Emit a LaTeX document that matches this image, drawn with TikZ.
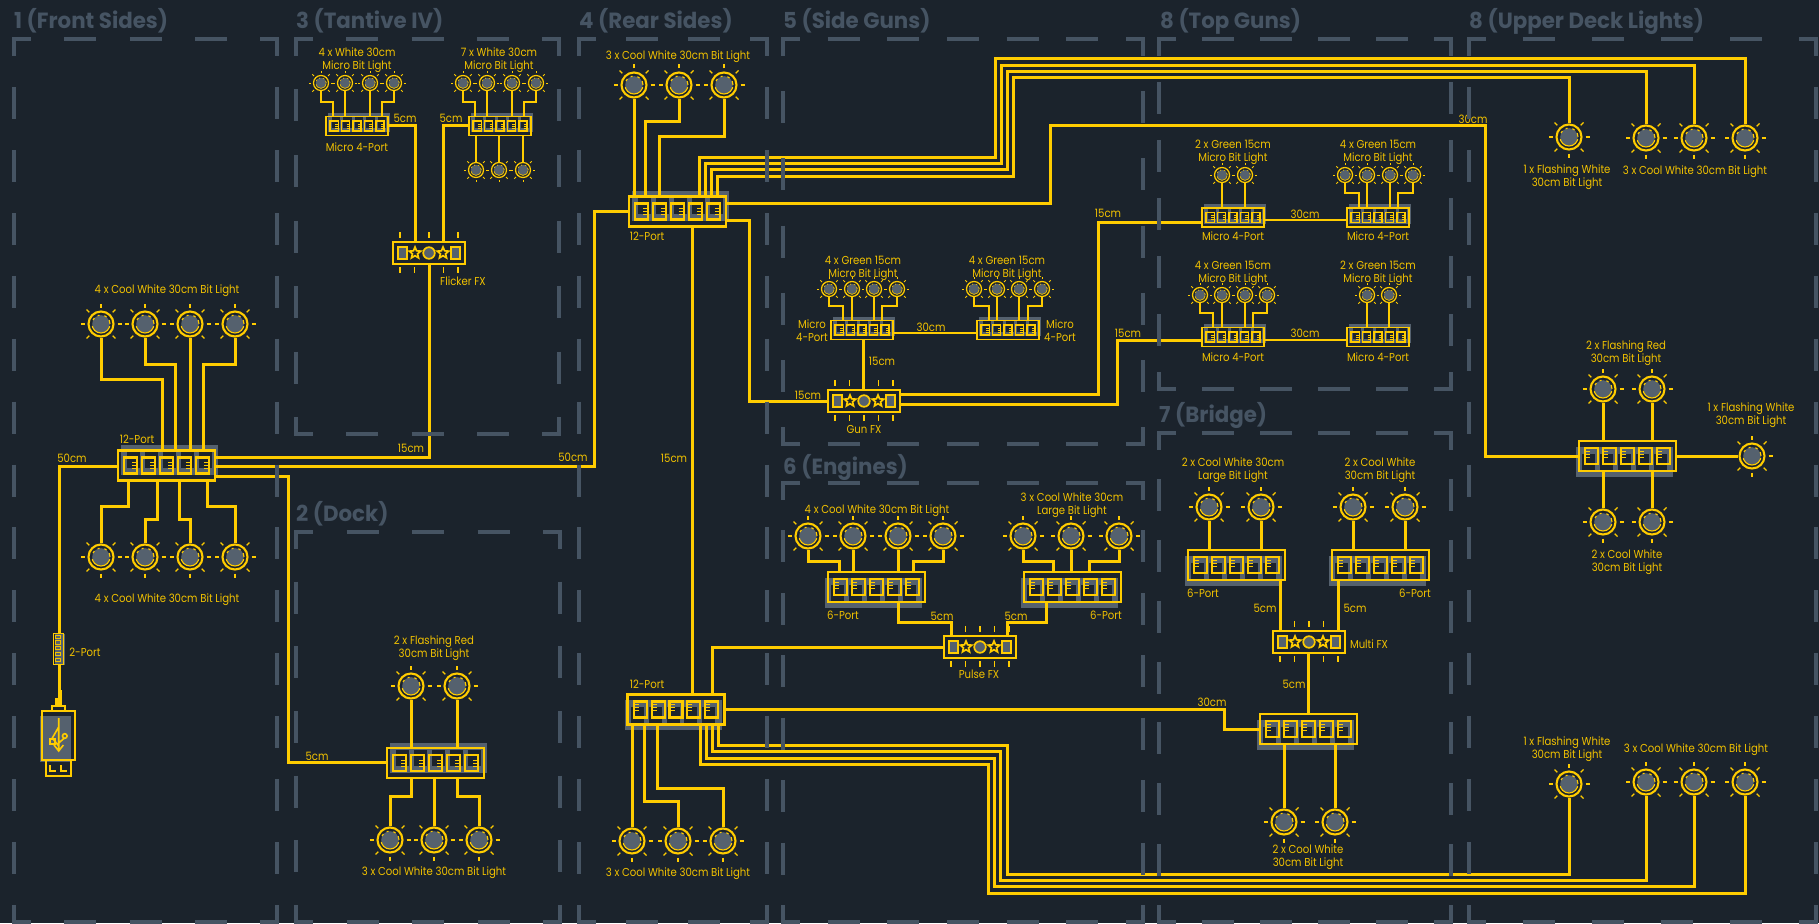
\documentclass[tikz,border=0pt]{standalone}
\usepackage{fontspec}
\setmainfont{Poppins}
\newfontfamily\lab[FakeStretch=0.88]{Poppins}
\newfontfamily\ttl[FakeStretch=0.97]{Poppins}
\definecolor{bg}{HTML}{1B232C}
\definecolor{wy}{HTML}{FFCC00}
\definecolor{ly}{HTML}{F2C200}
\definecolor{lamp}{HTML}{55616E}
\definecolor{rg}{HTML}{465463}
\newcounter{lblc}
\tikzset{
  wire/.style={draw=wy,line width=3pt,line join=miter},
  mwire/.style={draw=wy,line width=2.1pt,line join=miter},
  lbltxt/.style={anchor=mid,inner sep=0pt,text=ly,font=\fontsize{11.5}{13}\selectfont\lab},
  ttltxt/.style={anchor=west,inner sep=0pt,text=rg,font=\fontsize{22}{24}\selectfont\bfseries\ttl},
  boxnode/.style={draw=wy,rectangle,inner sep=0pt},
}
\newcommand\lbl[3]{\stepcounter{lblc}\node[lbltxt] (lbl\thelblc) at (#1,#2+1.5) {#3};}
\newcommand\ttlb[3]{\stepcounter{lblc}\node[ttltxt] (ttl\thelblc) at (#1,#2+1) {#3};}
% name x y scale
\newcommand\mybulb[4]{%
  \node[circle,draw=wy,fill=bg,line width=#4*2.1pt,minimum size=#4*25pt,inner sep=0pt] (#1) at (#2,#3) {};
  \fill[lamp] (#2,#3) circle[radius=#4*8.8pt];
  \draw[wy,line width=#4*1.1pt,dash pattern=on #4*4pt off #4*4pt on #4*2.5pt off #4*5pt on #4*2pt off #4*4pt on #4*2.5pt off #4*6pt on #4*24pt off #4*2.5pt] (#2,#3) circle[radius=#4*9pt];
  \foreach \a in {0,45,...,315}{\draw[wy,line width=(0.3+1.05*#4)*1pt] ([shift={(#2,#3)}]\a:#4*16.5) -- ([shift={(#2,#3)}]\a:#4*20.5);}
}
% name x y scale dir
\newcommand\myhub[5]{%
  \begin{scope}[shift={(#2,#3)},x=#4pt,y=-#4pt]
    \begin{scope}[shift={(3*#5,-5.5*#5)}]
      \fill[lamp] (-48.5,-15) rectangle (48.5,15);
      \foreach \i in {-2,...,2}{\fill[bg] (\i*17.9-6.5,-8) rectangle (\i*17.9+6.5,8);}
    \end{scope}
    \node[boxnode,line width=(0.6+1.8*#4)*1pt,minimum width=#4*97pt,minimum height=#4*30pt] (#1) at (0,0) {};
    \foreach \i in {-2,...,2}{
      \draw[wy,line width=(0.4+1.7*#4)*1pt] (\i*17.9-6.5,-8) rectangle (\i*17.9+6.5,8);
      \foreach \j in {-3,0,3}{\draw[wy,line width=#4*1pt] (\i*17.9+#5*1.5,\j+#5-1) -- (\i*17.9+#5*6.5,\j+#5-1);}
    }
  \end{scope}
}
\newcommand\mystar[1]{\draw[wy,line width=1.7pt,line join=miter] ([xshift=#1pt]0,-6)--++(1.59,3.82)--++(4.12,0.33)--++(-3.14,2.68)--++(0.96,4.02)--++(-3.53,-2.15)--++(-3.53,2.15)--++(0.96,-4.02)--++(-3.14,-2.68)--++(4.12,-0.33)--cycle;}
\newcommand\myfx[3]{%
  \begin{scope}[shift={(#2,#3)}]
    \node[boxnode,line width=2.2pt,minimum width=72pt,minimum height=22pt] (#1) at (0,0) {};
    \draw[wy,fill=lamp,line width=1.7pt] (-31,-6) rectangle (-22,6);
    \draw[wy,fill=lamp,line width=1.7pt] (22,-6) rectangle (31,6);
    \draw[wy,fill=lamp,line width=1.7pt] (0,0) circle[radius=5.8pt];
    \mystar{-14}
    \mystar{14}
    \foreach \t in {-29,-14.5,0,14.5,29}{
      \draw[wy,line width=1.5pt] (\t,-21) -- (\t,-15);
      \draw[wy,line width=1.5pt] (\t,14) -- (\t,20);
    }
  \end{scope}
}
\newcommand\myside[4]{%
  \pgfmathsetmacro{\sl}{veclen(#3-#1,#4-#2)}
  \pgfmathsetmacro{\pp}{(\sl-2)/round((\sl-2)/63)}
  \pgfmathsetmacro{\gp}{\pp-32}
  \draw[rg,line width=4.4pt,dash pattern=on 32pt off \gp pt,dash phase=15pt] (#1,#2) -- (#3,#4);
}
\newcommand\myregion[4]{%
  \myside{#1}{#2}{#3}{#2}\myside{#3}{#2}{#3}{#4}\myside{#1}{#4}{#3}{#4}\myside{#1}{#2}{#1}{#4}
  \draw[rg,line width=4.4pt,line join=miter] (#1,#2+17) -- (#1,#2) -- (#1+17,#2);
  \draw[rg,line width=4.4pt,line join=miter] (#3-17,#2) -- (#3,#2) -- (#3,#2+17);
  \draw[rg,line width=4.4pt,line join=miter] (#1,#4-17) -- (#1,#4) -- (#1+17,#4);
  \draw[rg,line width=4.4pt,line join=miter] (#3-17,#4) -- (#3,#4) -- (#3,#4-17);
}
\begin{document}
\begin{tikzpicture}[x=1pt,y=-1pt]
\useasboundingbox (0,0) rectangle (1819,923);
\fill[bg] (0,0) rectangle (1819,923);
% ---------- front sides
\mybulb{fa}{101}{324}{1}\mybulb{fb}{145}{324}{1}\mybulb{fc}{190}{324}{1}\mybulb{fd}{235}{324}{1}
\mybulb{fe}{101}{557}{1}\mybulb{ff}{145}{557}{1}\mybulb{fg}{190}{557}{1}\mybulb{fh}{235}{557}{1}
\myhub{hF}{166.5}{465.5}{1}{1}
% 2-port + usb
\fill[lamp] (55,634) rectangle (65,665);
\node[boxnode,line width=1pt,minimum width=10pt,minimum height=31pt] (pTwo) at (58,648.5) {};
\foreach \q in {637,642.5,648,654,660}{\draw[ly,line width=.9pt] (55.3,\q-1.8) rectangle (60.7,\q+1.8);}
\fill[lamp] (40,716) rectangle (71,762);
\node[boxnode,line width=2pt,minimum width=33pt,minimum height=49pt] (usb) at (58.5,735.5) {};
\node[boxnode,line width=2pt,minimum width=25pt,minimum height=16pt] (plug) at (58.5,768) {};
\node[boxnode,line width=2pt,minimum width=13pt,minimum height=5pt] (neck) at (58.5,708.5) {};
\draw[wy,line width=1.8pt] (50,765)--(50,771)--(56,771) (61,765)--(61,771)--(67,771);
\fill[wy] (55,698) rectangle (62,706);
\fill[wy] (59,690) rectangle (62,698);
\draw[wy,line width=1.6pt] (58.7,718)--(58.7,750) (54,745)--(58.7,751)--(63.4,745) (58.7,743)--(64.5,738) (58.7,746)--(52.3,738)--(58.7,727);
\draw[wy,line width=1.6pt] (64.8,736) circle[radius=2.3pt];
\draw[wy,line width=1.6pt] (50,739) rectangle (55,744);
% ---------- tantive
\mybulb{ta}{321}{83}{.6}\mybulb{tb}{345}{83}{.6}\mybulb{tc}{370}{83}{.6}\mybulb{td}{394}{83}{.6}
\mybulb{te}{463}{83}{.6}\mybulb{tf}{487}{83}{.6}\mybulb{tg}{512}{83}{.6}\mybulb{th}{536}{83}{.6}
\mybulb{ti}{476}{170}{.6}\mybulb{tj}{499}{170}{.6}\mybulb{tk}{523}{170}{.6}
\myhub{hTa}{357}{126}{.64}{1}
\myhub{hTb}{500}{126}{.64}{1}
\myfx{fxF}{429}{253}
% ---------- dock
\mybulb{da}{411}{686}{1}\mybulb{db}{457}{686}{1}
\mybulb{dc}{390}{840}{1}\mybulb{dd}{434}{840}{1}\mybulb{de}{479}{840}{1}
\myhub{hD}{435.5}{763}{1}{1}
% ---------- rear sides
\mybulb{ra}{634}{85}{1}\mybulb{rb}{679}{85}{1}\mybulb{rc}{724}{85}{1}
\mybulb{rd}{632}{841}{1}\mybulb{re}{678}{841}{1}\mybulb{rf}{723}{841}{1}
\myhub{hT}{677.5}{211.5}{1}{1}
\myhub{hB}{676}{709.5}{1}{-1}
% ---------- side guns
\mybulb{ga}{829}{289}{.6}\mybulb{gb}{852}{289}{.6}\mybulb{gc}{874}{289}{.6}\mybulb{gd}{897}{289}{.6}
\mybulb{ge}{974}{289}{.6}\mybulb{gf}{997}{289}{.6}\mybulb{gg}{1019}{289}{.6}\mybulb{gh}{1042}{289}{.6}
\myhub{hGa}{862}{330}{.64}{1}
\myhub{hGb}{1008}{330}{.64}{1}
\myfx{fxG}{864}{401}
% ---------- top guns
\mybulb{ua}{1222}{175}{.6}\mybulb{ub}{1245}{175}{.6}
\mybulb{uc}{1345}{175}{.6}\mybulb{ud}{1367}{175}{.6}\mybulb{ue}{1390}{175}{.6}\mybulb{uf}{1413}{175}{.6}
\mybulb{ug}{1200}{295}{.6}\mybulb{uh}{1222}{295}{.6}\mybulb{ui}{1245}{295}{.6}\mybulb{uj}{1267}{295}{.6}
\mybulb{uk}{1367}{295}{.6}\mybulb{ul}{1389}{295}{.6}
\myhub{hUa}{1233}{217.5}{.64}{1}
\myhub{hUb}{1378}{217.5}{.64}{1}
\myhub{hUc}{1233}{337}{.64}{1}
\myhub{hUd}{1378}{337}{.64}{1}
% ---------- engines
\mybulb{ea}{808}{536}{1}\mybulb{eb}{853}{536}{1}\mybulb{ec}{898}{536}{1}\mybulb{ed}{943}{536}{1}
\mybulb{ee}{1023}{536}{1}\mybulb{ef}{1071}{536}{1}\mybulb{eg}{1119}{536}{1}
\myhub{hEa}{876.5}{587}{1}{-1}
\myhub{hEb}{1072.5}{587}{1}{-1}
\myfx{fxP}{980}{647}
% ---------- bridge
\mybulb{ba}{1209}{507}{1}\mybulb{bb}{1261}{507}{1}\mybulb{bc}{1353}{507}{1}\mybulb{bd}{1405}{507}{1}
\mybulb{be}{1284}{822}{1}\mybulb{bf}{1335}{822}{1}
\myhub{hBa}{1236.5}{565}{1}{-1}
\myhub{hBb}{1380.5}{565}{1}{-1}
\myhub{hBc}{1308.5}{729}{1}{-1}
\myfx{fxM}{1309}{642}
% ---------- upper deck
\mybulb{la}{1569}{137}{1}\mybulb{lb}{1646}{138}{1}\mybulb{lc}{1694}{138}{1}\mybulb{ld}{1745}{138}{1}
\mybulb{le}{1603}{389}{1}\mybulb{lf}{1652}{389}{1}\mybulb{lg}{1603}{522}{1}\mybulb{lh}{1652}{522}{1}\mybulb{li}{1752}{456}{1}
\mybulb{lj}{1569}{784}{1}\mybulb{lk}{1646}{782}{1}\mybulb{ll}{1694}{782}{1}\mybulb{lm}{1745}{782}{1}
\myhub{hL}{1627.5}{456}{1}{-1}
% ========== wires
\draw[wire] (fa.south) |- (162,379) -- (162,0 |- hF.north);
\draw[wire] (fb.south) |- (175,364) -- (175,0 |- hF.north);
\draw[wire] (fc.south) -- (190,0 |- hF.north);
\draw[wire] (fd.south) |- (203,364) -- (203,0 |- hF.north);
\draw[wire] (128,0 |- hF.south) |- (101,506) -- (fe.north);
\draw[wire] (157,0 |- hF.south) |- (145,519) -- (ff.north);
\draw[wire] (179,0 |- hF.south) |- (190,519) -- (fg.north);
\draw[wire] (207,0 |- hF.south) |- (235,506) -- (fh.north);
\draw[wire] (hF.west |- 0,466) -| (59,0 |- pTwo.north);
\draw[wire] (59,0 |- pTwo.south) -- (59,0 |- neck.north);
\draw[wire] (hF.east |- 0,457) -| (fxF.south);
\draw[wire] (hF.east |- 0,466) -- (594,466) |- (hT.west |- 0,211);
\draw[wire] (hF.east |- 0,476) -- (288,476) |- (hD.west |- 0,762);
% tantive
\draw[mwire] (ta.south) |- (333,102) -- (333,0 |- hTa.north);
\draw[mwire] (tb.south) -- (345,0 |- hTa.north);
\draw[mwire] (tc.south) -- (370,0 |- hTa.north);
\draw[mwire] (td.south) |- (382,102) -- (382,0 |- hTa.north);
\draw[mwire] (te.south) |- (475,102) -- (475,0 |- hTb.north);
\draw[mwire] (tf.south) -- (487,0 |- hTb.north);
\draw[mwire] (tg.south) -- (512,0 |- hTb.north);
\draw[mwire] (th.south) |- (524,102) -- (524,0 |- hTb.north);
\draw[mwire] (476,0 |- hTb.south) -- (ti.north);
\draw[mwire] (499,0 |- hTb.south) -- (tj.north);
\draw[mwire] (523,0 |- hTb.south) -- (tk.north);
\draw[wire] (hTa.east) -| (415,0 |- fxF.north);
\draw[wire] (hTb.west) -| (443,0 |- fxF.north);
% dock
\draw[wire] (da.south) -- (411,0 |- hD.north);
\draw[wire] (db.south) -- (457,0 |- hD.north);
\draw[wire] (411,0 |- hD.south) |- (390,796) -- (dc.north);
\draw[wire] (434,0 |- hD.south) -- (dd.north);
\draw[wire] (457,0 |- hD.south) |- (479,796) -- (de.north);
% rear
\draw[wire] (ra.south) -- (634,0 |- hT.north);
\draw[wire] (rb.south) |- (645,122) -- (645,0 |- hT.north);
\draw[wire] (rc.south) |- (659,136) -- (659,0 |- hT.north);
\draw[wire] (632,0 |- hB.south) -- (rd.north);
\draw[wire] (644,0 |- hB.south) |- (678,801) -- (re.north);
\draw[wire] (657,0 |- hB.south) |- (723,788) -- (rf.north);
\draw[wire] (692,0 |- hT.south) -- (692,0 |- hB.north);
% top bundle
\draw[wire] (699,0 |- hT.north) |- (995,157) |- (1745,59) -- (ld.north);
\draw[wire] (705,0 |- hT.north) |- (1001,163) |- (1694,66) -- (lc.north);
\draw[wire] (711,0 |- hT.north) |- (1007,169) |- (1646,72) -- (lb.north);
\draw[wire] (717,0 |- hT.north) |- (1013,176) |- (1569,78) -- (la.north);
% bottom bundle
\draw[wire] (700,0 |- hB.south) |- (988,764) |- (1745,893) -- (lm.south);
\draw[wire] (706,0 |- hB.south) |- (994,758) |- (1694,886) -- (ll.south);
\draw[wire] (712,0 |- hB.south) |- (1000,751) |- (1646,880) -- (lk.south);
\draw[wire] (718,0 |- hB.south) |- (1007,745) |- (1569,874) -- (lj.south);
% 30cm to upper deck
\draw[wire] (hT.east |- 0,203) -- (1050,203) |- (1485,126) |- (hL.west);
\draw[wire] (hT.east |- 0,220) -- (749,220) |- (fxG.west);
\draw[wire] (hL.east) -- (li.west);
\draw[wire] (le.south) -- (1603,0 |- hL.north);
\draw[wire] (lf.south) -- (1652,0 |- hL.north);
\draw[wire] (1603,0 |- hL.south) -- (lg.north);
\draw[wire] (1652,0 |- hL.south) -- (lh.north);
% guns
\draw[mwire] (ga.south) |- (843,306) -- (843,0 |- hGa.north);
\draw[mwire] (gb.south) -- (852,0 |- hGa.north);
\draw[mwire] (gc.south) -- (874,0 |- hGa.north);
\draw[mwire] (gd.south) |- (882,306) -- (882,0 |- hGa.north);
\draw[mwire] (ge.south) |- (989,306) -- (989,0 |- hGb.north);
\draw[mwire] (gf.south) -- (997,0 |- hGb.north);
\draw[mwire] (gg.south) -- (1019,0 |- hGb.north);
\draw[mwire] (gh.south) |- (1028,306) -- (1028,0 |- hGb.north);
\draw[mwire] (hGa.east |- 0,333) -- (hGb.west |- 0,333);
\draw[wire] (fxG.north -| 863,0) -- (hGa.south -| 863,0);
\draw[wire] (fxG.east |- 0,394) -- (1098,394) |- (hUa.west |- 0,222);
\draw[wire] (fxG.east |- 0,404) -- (1117,404) |- (hUc.west |- 0,340);
% top guns
\draw[mwire] (ua.south) -- (1222,0 |- hUa.north);
\draw[mwire] (ub.south) -- (1245,0 |- hUa.north);
\draw[mwire] (uc.south) |- (1359,193) -- (1359,0 |- hUb.north);
\draw[mwire] (ud.south) -- (1367,0 |- hUb.north);
\draw[mwire] (ue.south) -- (1390,0 |- hUb.north);
\draw[mwire] (uf.south) |- (1398,193) -- (1398,0 |- hUb.north);
\draw[mwire] (hUa.east |- 0,220) -- (hUb.west |- 0,220);
\draw[mwire] (ug.south) |- (1213,313) -- (1213,0 |- hUc.north);
\draw[mwire] (uh.south) -- (1222,0 |- hUc.north);
\draw[mwire] (ui.south) -- (1245,0 |- hUc.north);
\draw[mwire] (uj.south) |- (1253,313) -- (1253,0 |- hUc.north);
\draw[mwire] (uk.south) -- (1367,0 |- hUd.north);
\draw[mwire] (ul.south) -- (1389,0 |- hUd.north);
\draw[mwire] (hUc.east |- 0,340) -- (hUd.west |- 0,340);
% engines
\draw[wire] (ea.south) |- (839,561) -- (839,0 |- hEa.north);
\draw[wire] (eb.south) -- (853,0 |- hEa.north);
\draw[wire] (ec.south) -- (898,0 |- hEa.north);
\draw[wire] (ed.south) |- (913,561) -- (913,0 |- hEa.north);
\draw[wire] (ee.south) |- (1053,561) -- (1053,0 |- hEb.north);
\draw[wire] (ef.south) -- (1071,0 |- hEb.north);
\draw[wire] (eg.south) |- (1089,561) -- (1089,0 |- hEb.north);
\draw[wire] (898,0 |- hEa.south) |- (951,622) -- (951,0 |- fxP.north);
\draw[wire] (1046,0 |- hEb.south) |- (1007,622) -- (1007,0 |- fxP.north);
\draw[wire] (fxP.west) -- (712,647) -- (712,0 |- hB.north);
% bridge
\draw[wire] (ba.south) -- (1209,0 |- hBa.north);
\draw[wire] (bb.south) -- (1261,0 |- hBa.north);
\draw[wire] (bc.south) -- (1353,0 |- hBb.north);
\draw[wire] (bd.south) -- (1405,0 |- hBb.north);
\draw[wire] (1280,0 |- hBa.south) -- (1280,0 |- fxM.north);
\draw[wire] (1338,0 |- hBb.south) -- (1338,0 |- fxM.north);
\draw[wire] (1308,0 |- fxM.south) -- (1308,0 |- hBc.north);
\draw[wire] (hB.east |- 0,709) -- (1224,709) |- (hBc.west);
\draw[wire] (1284,0 |- hBc.south) -- (be.north);
\draw[wire] (1335,0 |- hBc.south) -- (bf.north);
% ========== labels
\lbl{167}{289}{4 x Cool White 30cm Bit Light}
\lbl{167}{598}{4 x Cool White 30cm Bit Light}
\lbl{137}{439}{12-Port}
\lbl{72}{458}{50cm}
\lbl{85}{652}{2-Port}
\lbl{357}{52}{4 x White 30cm}\lbl{357}{65}{Micro Bit Light}
\lbl{499}{52}{7 x White 30cm}\lbl{499}{65}{Micro Bit Light}
\lbl{357}{147}{Micro 4-Port}
\lbl{405}{118}{5cm}\lbl{451}{118}{5cm}
\lbl{463}{281}{Flicker FX}
\lbl{411}{448}{15cm}
\lbl{573}{457}{50cm}
\lbl{317}{756}{5cm}
\lbl{434}{640}{2 x Flashing Red}\lbl{434}{653}{30cm Bit Light}
\lbl{434}{871}{3 x Cool White 30cm Bit Light}
\lbl{678}{55}{3 x Cool White 30cm Bit Light}
\lbl{647}{236}{12-Port}
\lbl{674}{458}{15cm}
\lbl{647}{684}{12-Port}
\lbl{678}{872}{3 x Cool White 30cm Bit Light}
\lbl{863}{260}{4 x Green 15cm}\lbl{863}{273}{Micro Bit Light}
\lbl{1007}{260}{4 x Green 15cm}\lbl{1007}{273}{Micro Bit Light}
\lbl{812}{324}{Micro}\lbl{812}{337}{4-Port}
\lbl{1060}{324}{Micro}\lbl{1060}{337}{4-Port}
\lbl{931}{327}{30cm}
\lbl{882}{361}{15cm}
\lbl{808}{395}{15cm}
\lbl{864}{429}{Gun FX}
\lbl{1108}{213}{15cm}
\lbl{1128}{333}{15cm}
\lbl{1233}{144}{2 x Green 15cm}\lbl{1233}{157}{Micro Bit Light}
\lbl{1378}{144}{4 x Green 15cm}\lbl{1378}{157}{Micro Bit Light}
\lbl{1233}{236}{Micro 4-Port}\lbl{1378}{236}{Micro 4-Port}
\lbl{1305}{214}{30cm}\lbl{1305}{333}{30cm}
\lbl{1233}{265}{4 x Green 15cm}\lbl{1233}{278}{Micro Bit Light}
\lbl{1378}{265}{2 x Green 15cm}\lbl{1378}{278}{Micro Bit Light}
\lbl{1233}{357}{Micro 4-Port}\lbl{1378}{357}{Micro 4-Port}
\lbl{877}{509}{4 x Cool White 30cm Bit Light}
\lbl{1072}{497}{3 x Cool White 30cm}\lbl{1072}{510}{Large Bit Light}
\lbl{843}{615}{6-Port}\lbl{1106}{615}{6-Port}
\lbl{942}{616}{5cm}\lbl{1016}{616}{5cm}
\lbl{979}{674}{Pulse FX}
\lbl{1233}{462}{2 x Cool White 30cm}\lbl{1233}{475}{Large Bit Light}
\lbl{1380}{462}{2 x Cool White}\lbl{1380}{475}{30cm Bit Light}
\lbl{1203}{593}{6-Port}\lbl{1415}{593}{6-Port}
\lbl{1265}{608}{5cm}\lbl{1355}{608}{5cm}
\lbl{1369}{644}{Multi FX}
\lbl{1294}{684}{5cm}
\lbl{1212}{702}{30cm}
\lbl{1308}{849}{2 x Cool White}\lbl{1308}{862}{30cm Bit Light}
\lbl{1473}{119}{30cm}
\lbl{1567}{169}{1 x Flashing White}\lbl{1567}{182}{30cm Bit Light}
\lbl{1695}{170}{3 x Cool White 30cm Bit Light}
\lbl{1626}{345}{2 x Flashing Red}\lbl{1626}{358}{30cm Bit Light}
\lbl{1751}{407}{1 x Flashing White}\lbl{1751}{420}{30cm Bit Light}
\lbl{1627}{554}{2 x Cool White}\lbl{1627}{567}{30cm Bit Light}
\lbl{1567}{741}{1 x Flashing White}\lbl{1567}{754}{30cm Bit Light}
\lbl{1696}{748}{3 x Cool White 30cm Bit Light}
% ========== titles
\ttlb{14}{20}{1 (Front Sides)}
\ttlb{296}{20}{3 (Tantive IV)}
\ttlb{579}{20}{4 (Rear Sides)}
\ttlb{783}{20}{5 (Side Guns)}
\ttlb{1160}{20}{8 (Top Guns)}
\ttlb{1469}{20}{8 (Upper Deck Lights)}
\ttlb{296}{513}{2 (Dock)}
\ttlb{783}{466}{6 (Engines)}
\ttlb{1159}{414}{7 (Bridge)}
% ========== regions
\myregion{14}{39}{277}{922}
\myregion{296}{39}{559}{434}
\myregion{296}{532}{560}{922}
\myregion{579}{39}{767}{922}
\myregion{783}{39}{1143}{444}
\myregion{783}{483}{1143}{922}
\myregion{1159}{39}{1451}{389}
\myregion{1159}{433}{1451}{922}
\myregion{1469}{39}{1816}{922}
\end{tikzpicture}
\end{document}
